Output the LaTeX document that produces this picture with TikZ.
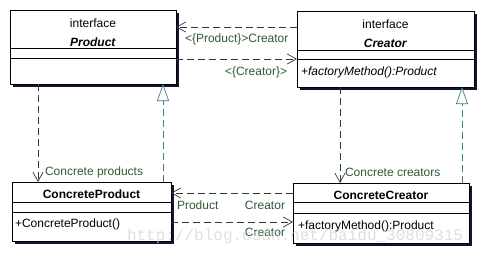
\documentclass[tikz,border=0pt]{standalone}
\usepackage{fontspec}
\setmainfont{Liberation Sans}
\setmonofont{Liberation Mono}
\usetikzlibrary{arrows.meta,shadows}
\definecolor{shadowc}{HTML}{141432}
\definecolor{depc}{HTML}{2A3A30}
\definecolor{realc}{HTML}{3C7C8C}
\definecolor{labelc}{HTML}{2E5A36}

\begin{document}
\begin{tikzpicture}[x=1pt,y=-1pt,font=\fontsize{12}{14}\selectfont,
	classbox/.style={draw,line width=0.9pt,fill=white,inner sep=0,outer sep=0,
		drop shadow={shadow xshift=2.5pt,shadow yshift=-2.5pt,fill=shadowc,opacity=1}},
	txt/.style={inner sep=0,outer sep=0},
	lbl/.style={inner sep=0,outer sep=0,text=labelc},
	dep/.style={depc,line width=0.7pt,dash pattern=on 7pt off 4pt,-{Straight Barb[length=9pt,width=10pt,line width=0.7pt]}},
	real/.style={realc,line width=0.7pt,dash pattern=on 7pt off 4pt,-{Triangle[open,length=17pt,width=12pt,line width=0.7pt,fill=white]}}]
	\useasboundingbox (0,0) rectangle (487,255);
	\node[classbox,minimum width=166pt,minimum height=74pt] (product) at (93,47) {};
	\node[classbox,minimum width=177pt,minimum height=75.5pt] (creator) at (385.5,49.25) {};
	\node[classbox,minimum width=159pt,minimum height=59pt] (cproduct) at (91.5,211.5) {};
	\node[classbox,minimum width=176pt,minimum height=60pt] (ccreator) at (381,213) {};
	\draw[line width=0.8pt] ([yshift=-38.5pt]product.north west) -- ([yshift=-38.5pt]product.north east);
	\draw[line width=0.8pt] ([yshift=-48.5pt]product.north west) -- ([yshift=-48.5pt]product.north east);
	\draw[line width=0.8pt] ([yshift=-38.5pt]creator.north west) -- ([yshift=-38.5pt]creator.north east);
	\draw[line width=0.8pt] ([yshift=-47.5pt]creator.north west) -- ([yshift=-47.5pt]creator.north east);
	\draw[line width=0.8pt] ([yshift=-20pt]cproduct.north west) -- ([yshift=-20pt]cproduct.north east);
	\draw[line width=0.8pt] ([yshift=-30pt]cproduct.north west) -- ([yshift=-30pt]cproduct.north east);
	\draw[line width=0.8pt] ([yshift=-19pt]ccreator.north west) -- ([yshift=-19pt]ccreator.north east);
	\draw[line width=0.8pt] ([yshift=-30pt]ccreator.north west) -- ([yshift=-30pt]ccreator.north east);
	\node[txt] (product-st) at (93,23) {interface};
	\node[txt] (product-name) at (93,42) {\textbf{\textit{Product}}};
	\node[txt] (creator-st) at (385.5,24) {interface};
	\node[txt] (creator-name) at (385.5,43) {\textbf{\textit{Creator}}};
	\node[txt,anchor=west] (creator-op) at (301,72) {\textit{+factoryMethod():Product}};
	\node[txt] (cproduct-name) at (91.5,194) {\textbf{ConcreteProduct}};
	\node[txt,anchor=west] (cproduct-op) at (15,224) {+ConcreteProduct()};
	\node[txt] (ccreator-name) at (381,195) {\textbf{ConcreteCreator}};
	\node[txt,anchor=west] (ccreator-op) at (298,226) {+factoryMethod():Product};
	\draw[dep] (creator.west |- 0,27) -- (product.east |- 0,27);
	\draw[dep] (product.east |- 0,59) -- (creator.west |- 0,59);
	\draw[dep] (product.south -| 38,0) -- (cproduct.north -| 38,0);
	\draw[dep] (creator.south -| 340,0) -- (ccreator.north -| 340,0);
	\draw[real] (cproduct.north -| 163,0) -- (product.south -| 163,0);
	\draw[real] (ccreator.north -| 462,0) -- (creator.south -| 462,0);
	\draw[dep] (ccreator.west |- 0,193) -- (cproduct.east |- 0,193);
	\draw[dep] (cproduct.east |- 0,222) -- (ccreator.west |- 0,222);
	\node[lbl,anchor=west] (l-pc) at (185,39) {<\{Product\}>Creator};
	\node[lbl,anchor=west] (l-c) at (225,72) {<\{Creator\}>};
	\node[lbl,anchor=west] (l-cp) at (45,172) {Concrete products};
	\node[lbl,anchor=west] (l-cc) at (345,172) {Concrete creators};
	\node[lbl,anchor=west] (l-p) at (177,205) {Product};
	\node[lbl,anchor=east] (l-c1) at (285,205) {Creator};
	\node[lbl,anchor=east] (l-c2) at (285,232) {Creator};
	\node[txt,anchor=west,text=gray!35,opacity=0.7,font=\ttfamily\fontsize{16}{18}\selectfont] (mark) at (127,236) {http://blog.csdn.net/baidu\_30809315};
\end{tikzpicture}
\end{document}
